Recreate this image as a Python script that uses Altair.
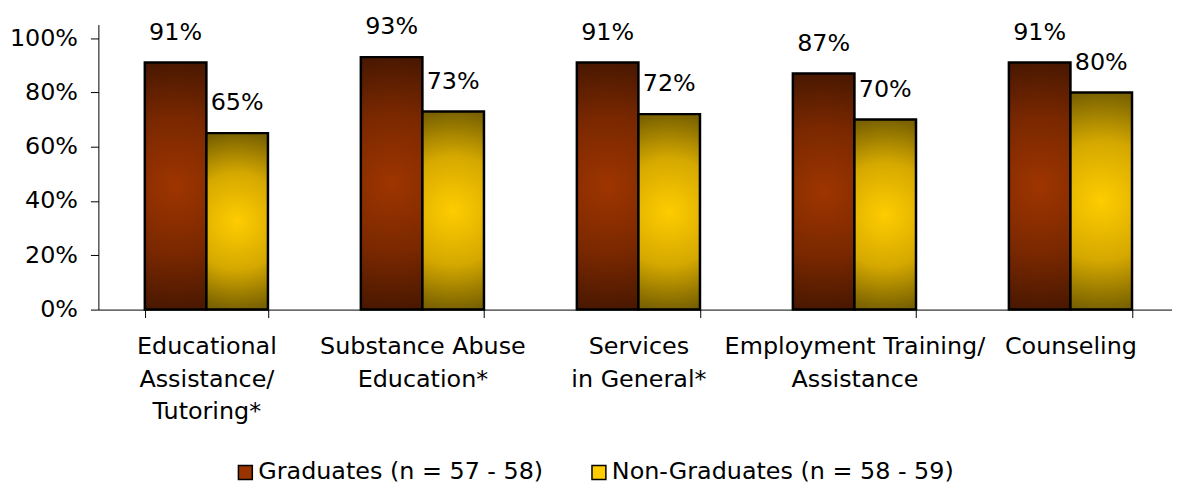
import altair as alt
import pandas as pd

categories = [
    "Educational|Assistance/|Tutoring*",
    "Substance Abuse|Education*",
    "Services|in General*",
    "Employment Training/|Assistance",
    "Counseling",
]
series = ["Graduates (n = 57 - 58)", "Non-Graduates (n = 58 - 59)"]
graduates = [0.91, 0.93, 0.91, 0.87, 0.91]
non_graduates = [0.65, 0.73, 0.72, 0.70, 0.80]
y_ticks = [0, 0.2, 0.4, 0.6, 0.8, 1.0]

rows = []
for c, g, n in zip(categories, graduates, non_graduates):
    rows.append({"category": c, "series": series[0], "value": g})
    rows.append({"category": c, "series": series[1], "value": n})
df = pd.DataFrame(rows)

FONT = "DejaVu Sans"


def radial(center, mid, edge):
    return {
        "gradient": "radial",
        "x1": 0.5, "y1": 0.5, "r1": 0,
        "x2": 0.5, "y2": 0.5, "r2": 0.5,
        "stops": [
            {"offset": 0, "color": center},
            {"offset": 0.55, "color": mid},
            {"offset": 1, "color": edge},
        ],
    }


grad_g = radial("#9E3500", "#7A2800", "#4A1800")
grad_n = radial("#FFCC00", "#D4A800", "#7A6200")

x_enc = alt.X(
    "category:N",
    sort=categories,
    scale=alt.Scale(range=[0, 1087.5], paddingInner=0.43, paddingOuter=0.215),
    axis=alt.Axis(
        title=None,
        labelExpr="split(datum.label, '|')",
        labelAngle=0,
        labelFont=FONT,
        labelFontSize=24,
        labelLineHeight=33,
        labelColor="black",
        labelPadding=17,
        labelLimit=400,
        tickBand="extent",
        tickSize=8,
        tickColor="black",
        domainColor="black",
        grid=False,
    ),
)
xo_enc = alt.XOffset("series:N", sort=series, scale=alt.Scale(domain=series))
y_enc = alt.Y(
    "value:Q",
    scale=alt.Scale(domain=[0, 1.05], nice=False),
    axis=alt.Axis(
        title=None,
        values=y_ticks,
        format=".0%",
        labelFont=FONT,
        labelFontSize=24,
        labelColor="black",
        labelPadding=13,
        tickSize=8,
        tickColor="black",
        domainColor="black",
        grid=False,
    ),
)

color_enc = alt.Color(
    "series:N",
    sort=series,
    scale=alt.Scale(domain=series, range=["#993300", "#FFCC00"]),
    legend=alt.Legend(
        title=None,
        orient="none",
        direction="horizontal",
        legendX=136,
        legendY=439,
        symbolType="square",
        symbolSize=196,
        symbolStrokeColor="black",
        symbolStrokeWidth=1.5,
        symbolOpacity=1,
        labelFont=FONT,
        labelFontSize=24,
        labelColor="black",
        labelLimit=500,
        labelOffset=1,
        columnPadding=44,
    ),
    condition=[
        {"test": f"datum.series === '{series[0]}'", "value": grad_g},
        {"test": f"datum.series === '{series[1]}'", "value": grad_n},
    ],
)

bars = alt.Chart(df).mark_bar(stroke="black", strokeWidth=2.5).encode(
    x=x_enc, xOffset=xo_enc, y=y_enc, color=color_enc
)

labels = alt.Chart(df).mark_text(
    font=FONT, fontSize=24, baseline="alphabetic", dy=-23, color="black"
).encode(
    x=alt.X("category:N", sort=categories),
    xOffset=alt.XOffset("series:N", sort=series),
    y="value:Q",
    text=alt.Text("value:Q", format=".0%"),
)

chart = (
    alt.layer(bars, labels)
    .properties(
        width=1081,
        height=287,
        autosize=alt.AutoSizeParams(type="none"),
        padding={"left": 91, "top": 15, "right": 0, "bottom": 180},
        background="white",
    )
    .configure_view(stroke=None)
)

chart.save("out.html", embed_options={"renderer": "svg", "actions": False})
